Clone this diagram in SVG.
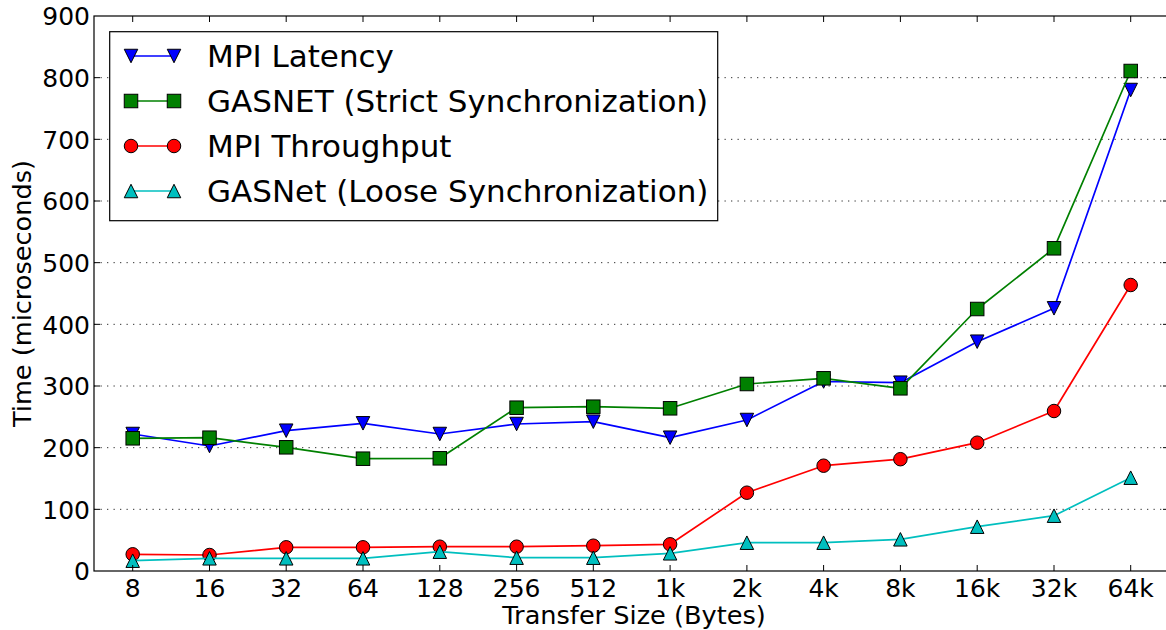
<svg xmlns="http://www.w3.org/2000/svg" width="1166" height="630" viewBox="0 0 1166 630">
<style>
text{font-family:"DejaVu Sans","Liberation Sans",sans-serif;fill:#000}
.tk{font-size:25px}
.lab{font-size:25.6px}
.leg{font-size:31px}
.grid{stroke:#333;stroke-width:1;stroke-dasharray:1.3 5.2;fill:none}
.tick{stroke:#000;stroke-width:1;fill:none}
.ser{fill:none;stroke-width:1.7;stroke-linejoin:round}
.blue{stroke:#0000ff;marker-start:url(#mDn);marker-mid:url(#mDn);marker-end:url(#mDn)}
.green{stroke:#008000;marker-start:url(#mSq);marker-mid:url(#mSq);marker-end:url(#mSq)}
.red{stroke:#ff0000;marker-start:url(#mCi);marker-mid:url(#mCi);marker-end:url(#mCi)}
.cyan{stroke:#00bfbf;marker-start:url(#mUp);marker-mid:url(#mUp);marker-end:url(#mUp)}
</style>
<defs>
<marker id="mDn" viewBox="-10 -10 20 20" markerWidth="20" markerHeight="20" refX="0" refY="0" markerUnits="userSpaceOnUse" overflow="visible"><path d="M-6.75,-6.75 L6.75,-6.75 L0,6.75 Z" fill="#0000ff" stroke="#000" stroke-width="1"/></marker>
<marker id="mSq" viewBox="-10 -10 20 20" markerWidth="20" markerHeight="20" refX="0" refY="0" markerUnits="userSpaceOnUse" overflow="visible"><rect x="-6.75" y="-6.75" width="13.5" height="13.5" fill="#008000" stroke="#000" stroke-width="1"/></marker>
<marker id="mCi" viewBox="-10 -10 20 20" markerWidth="20" markerHeight="20" refX="0" refY="0" markerUnits="userSpaceOnUse" overflow="visible"><circle cx="0" cy="0" r="6.75" fill="#ff0000" stroke="#000" stroke-width="1"/></marker>
<marker id="mUp" viewBox="-10 -10 20 20" markerWidth="20" markerHeight="20" refX="0" refY="0" markerUnits="userSpaceOnUse" overflow="visible"><path d="M0,-6.75 L6.75,6.75 L-6.75,6.75 Z" fill="#00bfbf" stroke="#000" stroke-width="1"/></marker>
</defs>
<rect x="0" y="0" width="1166" height="630" fill="#fff"/>
<g id="grid">
<line class="grid" x1="94" y1="509.33" x2="1166" y2="509.33"/>
<line class="grid" x1="94" y1="447.67" x2="1166" y2="447.67"/>
<line class="grid" x1="94" y1="386" x2="1166" y2="386"/>
<line class="grid" x1="94" y1="324.33" x2="1166" y2="324.33"/>
<line class="grid" x1="94" y1="262.67" x2="1166" y2="262.67"/>
<line class="grid" x1="94" y1="201" x2="1166" y2="201"/>
<line class="grid" x1="94" y1="139.33" x2="1166" y2="139.33"/>
<line class="grid" x1="94" y1="77.67" x2="1166" y2="77.67"/>
</g>
<g id="connectors">
<polyline id="s-mpi-latency" class="ser blue" points="132.7,434 209.5,446 286.2,430.7 363,423.3 439.8,434 516.6,424 593.3,421.7 670.1,437.7 746.9,420 823.6,381.5 900.4,382.7 977.2,341.7 1054,308.3 1130.7,90"/>
<polyline id="s-gasnet-strict" class="ser green" points="132.7,438.3 209.5,437.7 286.2,447.3 363,458.7 439.8,458.3 516.6,407.7 593.3,406.7 670.1,408.3 746.9,384 823.6,378.3 900.4,388.3 977.2,309 1054,248.3 1130.7,71"/>
<polyline id="s-mpi-throughput" class="ser red" points="132.7,554.3 209.5,555 286.2,547.3 363,547.3 439.8,546.7 516.6,546.7 593.3,545.7 670.1,544.3 746.9,492.7 823.6,465.7 900.4,459.2 977.2,442.7 1054,411 1130.7,285"/>
<polyline id="s-gasnet-loose" class="ser cyan" points="132.7,560.7 209.5,558.3 286.2,558.3 363,558.3 439.8,551.7 516.6,557.7 593.3,557.7 670.1,553.3 746.9,542.7 823.6,542.7 900.4,539.3 977.2,526.7 1054,515.7 1130.7,477.7"/>
</g>
<g id="axes">
<rect x="94" y="16" width="1075" height="555" fill="none" stroke="#000" stroke-width="1.2"/>
<path class="tick" d="M132.7,571v-6M209.5,571v-6M286.2,571v-6M363,571v-6M439.8,571v-6M516.6,571v-6M593.3,571v-6M670.1,571v-6M746.9,571v-6M823.6,571v-6M900.4,571v-6M977.2,571v-6M1054,571v-6M1130.7,571v-6"/>
<path class="tick" d="M132.7,16v6M209.5,16v6M286.2,16v6M363,16v6M439.8,16v6M516.6,16v6M593.3,16v6M670.1,16v6M746.9,16v6M823.6,16v6M900.4,16v6M977.2,16v6M1054,16v6M1130.7,16v6"/>
<path class="tick" d="M94,509.33h6M94,447.67h6M94,386h6M94,324.33h6M94,262.67h6M94,201h6M94,139.33h6M94,77.67h6"/>
<path class="tick" d="M1169,509.33h-6M1169,447.67h-6M1169,386h-6M1169,324.33h-6M1169,262.67h-6M1169,201h-6M1169,139.33h-6M1169,77.67h-6"/>
<g class="tk" text-anchor="middle">
<text x="132.7" y="597">8</text>
<text x="209.5" y="597">16</text>
<text x="286.2" y="597">32</text>
<text x="363" y="597">64</text>
<text x="439.8" y="597">128</text>
<text x="516.6" y="597">256</text>
<text x="593.3" y="597">512</text>
<text x="670.1" y="597">1k</text>
<text x="746.9" y="597">2k</text>
<text x="823.6" y="597">4k</text>
<text x="900.4" y="597">8k</text>
<text x="977.2" y="597">16k</text>
<text x="1054" y="597">32k</text>
<text x="1130.7" y="597">64k</text>
</g>
<g class="tk" text-anchor="end">
<text x="90" y="580.3">0</text>
<text x="90" y="518.6">100</text>
<text x="90" y="457">200</text>
<text x="90" y="395.3">300</text>
<text x="90" y="333.6">400</text>
<text x="90" y="272">500</text>
<text x="90" y="210.3">600</text>
<text x="90" y="148.6">700</text>
<text x="90" y="87">800</text>
<text x="90" y="25.3">900</text>
</g>
<text class="lab" x="634" y="623.5" text-anchor="middle">Transfer Size (Bytes)</text>
<text class="lab" x="0" y="0" text-anchor="middle" transform="translate(31,293.5) rotate(-90)">Time (microseconds)</text>
</g>
<g id="legend">
<rect x="109.7" y="31.7" width="608" height="189" fill="#fff" stroke="#000" stroke-width="1.2"/>
<g id="leg-mpi-latency"><polyline class="ser blue" points="131,56 174,56"/><text class="leg" x="207" y="67.3">MPI Latency</text></g>
<g id="leg-gasnet-strict"><polyline class="ser green" points="131,101 174,101"/><text class="leg" x="207" y="112.3">GASNET (Strict Synchronization)</text></g>
<g id="leg-mpi-throughput"><polyline class="ser red" points="131,146 174,146"/><text class="leg" x="207" y="157.3">MPI Throughput</text></g>
<g id="leg-gasnet-loose"><polyline class="ser cyan" points="131,191 174,191"/><text class="leg" x="207" y="202.3">GASNet (Loose Synchronization)</text></g>
</g>
</svg>
